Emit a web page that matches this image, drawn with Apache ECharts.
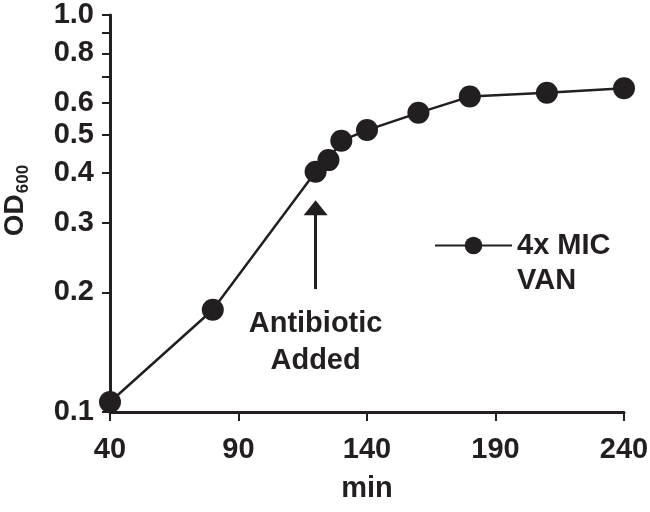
<!DOCTYPE html>
<html>
<head>
<meta charset="utf-8">
<script src="https://cdn.jsdelivr.net/npm/echarts@6/dist/echarts.min.js"></script>
<style>
  html, body { margin: 0; padding: 0; background: #fff; }
  #chart { width: 650px; height: 512px; }
</style>
</head>
<body>
<div id="chart"></div>
<script>
const minutes = [40, 80, 120, 125, 130, 140, 160, 180, 210, 240];
const od600 = [0.106, 0.181, 0.403, 0.431, 0.482, 0.513, 0.567, 0.623, 0.637, 0.654];
const xTicks = [40, 90, 140, 190, 240];
const yTicks = [0.1, 0.2, 0.3, 0.4, 0.5, 0.6, 0.7, 0.8, 0.9, 1.0];
const yLabels = [0.1, 0.2, 0.3, 0.4, 0.5, 0.6, 0.8, 1.0];
// arrow "Antibiotic Added" (x, y from / y to)
const arrowAt = [120, 0.204, 0.327];

const ink = '#231f20';
const font = "'Liberation Sans', Arial, sans-serif";

const chart = echarts.init(document.getElementById('chart'));

chart.setOption({
  animation: false,
  backgroundColor: '#fff',
  grid: { left: 110, right: 26, top: 15, bottom: 100, outerBoundsMode: 'none', containLabel: false },
  xAxis: {
    type: 'value',
    min: 40,
    max: 240,
    name: 'min',
    nameLocation: 'middle',
    nameGap: 62,
    nameTextStyle: { color: ink, fontSize: 29, fontWeight: 'bold', fontFamily: font },
    axisLine: { lineStyle: { color: ink, width: 3 } },
    axisTick: { customValues: xTicks, length: 9, lineStyle: { color: ink, width: 2 } },
    axisLabel: {
      customValues: xTicks, margin: 23, color: ink,
      fontSize: 29, fontWeight: 'bold', fontFamily: font
    },
    splitLine: { show: false }
  },
  yAxis: {
    type: 'log',
    logBase: 10,
    min: 0.1,
    max: 1,
    name: '{a|OD}{b|600}',
    nameLocation: 'middle',
    nameGap: 78,
    nameTextStyle: {
      color: ink, fontFamily: font, fontWeight: 'bold',
      padding: [0, 0, 0, 26],
      rich: {
        a: { fontSize: 28, fontWeight: 'bold', fontFamily: font, color: ink },
        b: { fontSize: 17, fontWeight: 'bold', fontFamily: font, color: ink, padding: [16, 0, 0, 1] }
      }
    },
    axisLine: { lineStyle: { color: ink, width: 3 } },
    axisTick: { customValues: yTicks, length: 8, lineStyle: { color: ink, width: 2 } },
    axisLabel: {
      customValues: yLabels, margin: 16, color: ink,
      fontSize: 29, fontWeight: 'bold', fontFamily: font,
      formatter: v => Number(v).toFixed(1)
    },
    splitLine: { show: false }
  },
  legend: {
    left: 429,
    top: 188,
    itemWidth: 77,
    itemHeight: 22,
    formatter: name => ' \n' + name,
    textStyle: {
      color: ink, fontSize: 29, fontWeight: 'bold', fontFamily: font,
      lineHeight: 35
    },
    data: ['4x MIC\nVAN']
  },
  series: [
    {
      name: '4x MIC\nVAN',
      type: 'line',
      data: minutes.map((m, i) => [m, od600[i]]),
      symbol: 'circle',
      symbolSize: 22,
      itemStyle: { color: ink },
      lineStyle: { color: ink, width: 2.5 },
      markLine: {
        silent: true,
        symbol: ['none', 'triangle'],
        symbolSize: [24, 15],
        lineStyle: { color: ink, width: 3, type: 'solid' },
        label: {
          show: true,
          position: 'start',
          distance: 16,
          formatter: 'Antibiotic\nAdded',
          color: ink, fontSize: 29, fontWeight: 'bold', fontFamily: font,
          lineHeight: 37
        },
        data: [[
          { coord: [arrowAt[0], arrowAt[1]] },
          { coord: [arrowAt[0], arrowAt[2]] }
        ]]
      }
    }
  ]
});
</script>
</body>
</html>
